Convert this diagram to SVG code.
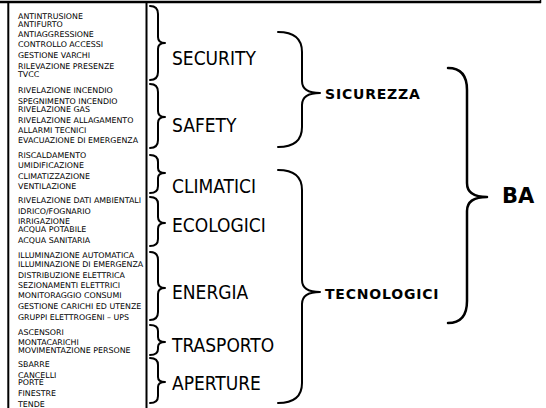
<svg xmlns="http://www.w3.org/2000/svg" width="546" height="408" viewBox="0 0 546 408">
<style>
.item{font-family:"DejaVu Sans","Verdana",sans-serif;font-size:7.9px;fill:#000}
.lab{font-family:"DejaVu Sans Condensed","DejaVu Sans",sans-serif;font-size:19px;fill:#000}
.grp{font-family:"DejaVu Sans",sans-serif;font-weight:bold;font-size:14px;letter-spacing:0.8px;fill:#000}
.top{font-family:"DejaVu Sans",sans-serif;font-weight:bold;font-size:21px;fill:#000}
.br{fill:none;stroke:#000;stroke-width:2;stroke-linecap:round;stroke-linejoin:round}
.bb{fill:none;stroke:#000;stroke-width:2.5;stroke-linecap:round;stroke-linejoin:round}
</style>
<rect width="546" height="408" fill="#fff"/>
<g id="frame">
<line x1="0" y1="2" x2="541" y2="2" stroke="#000" stroke-width="2.5"/>
<line x1="540.5" y1="0" x2="540.5" y2="3" stroke="#000" stroke-width="1.5"/>
<rect x="8.3" y="2" width="138.2" height="420" fill="none" stroke="#000" stroke-width="2"/>
</g>
<g id="list">
<text class="item" x="18" y="18.5">ANTINTRUSIONE</text>
<text class="item" x="18" y="26.5">ANTIFURTO</text>
<text class="item" x="18" y="37">ANTIAGGRESSIONE</text>
<text class="item" x="18" y="47">CONTROLLO ACCESSI</text>
<text class="item" x="18" y="57.5">GESTIONE VARCHI</text>
<text class="item" x="18" y="69">RILEVAZIONE PRESENZE</text>
<text class="item" x="18" y="77">TVCC</text>
<text class="item" x="18" y="93">RIVELAZIONE INCENDIO</text>
<text class="item" x="18" y="103.5">SPEGNIMENTO INCENDIO</text>
<text class="item" x="18" y="111.5">RIVELAZIONE GAS</text>
<text class="item" x="18" y="122.5">RIVELAZIONE ALLAGAMENTO</text>
<text class="item" x="18" y="132.5">ALLARMI TECNICI</text>
<text class="item" x="18" y="143">EVACUAZIONE DI EMERGENZA</text>
<text class="item" x="18" y="158">RISCALDAMENTO</text>
<text class="item" x="18" y="167.5">UMIDIFICAZIONE</text>
<text class="item" x="18" y="179">CLIMATIZZAZIONE</text>
<text class="item" x="18" y="189">VENTILAZIONE</text>
<text class="item" x="18" y="203">RIVELAZIONE DATI AMBIENTALI</text>
<text class="item" x="18" y="214">IDRICO/FOGNARIO</text>
<text class="item" x="18" y="223.5">IRRIGAZIONE</text>
<text class="item" x="18" y="231.5">ACQUA POTABILE</text>
<text class="item" x="18" y="242.5">ACQUA SANITARIA</text>
<text class="item" x="18" y="258">ILLUMINAZIONE AUTOMATICA</text>
<text class="item" x="18" y="266.5">ILLUMINAZIONE DI EMERGENZA</text>
<text class="item" x="18" y="278">DISTRIBUZIONE ELETTRICA</text>
<text class="item" x="18" y="287.5">SEZIONAMENTI ELETTRICI</text>
<text class="item" x="18" y="298">MONITORAGGIO CONSUMI</text>
<text class="item" x="18" y="309">GESTIONE CARICHI ED UTENZE</text>
<text class="item" x="18" y="320">GRUPPI ELETTROGENI – UPS</text>
<text class="item" x="18" y="334.5">ASCENSORI</text>
<text class="item" x="18" y="344.5">MONTACARICHI</text>
<text class="item" x="18" y="352.5">MOVIMENTAZIONE PERSONE</text>
<text class="item" x="18" y="367">SBARRE</text>
<text class="item" x="18" y="377.5">CANCELLI</text>
<text class="item" x="18" y="385">PORTE</text>
<text class="item" x="18" y="396">FINESTRE</text>
<text class="item" x="18" y="407">TENDE</text>
</g>
<g id="connectors">
<path class="br" d="M150 6 Q158 6 158 14 L158 37 Q158 43 165 43 Q158 43 158 49 L158 72 Q158 80 150 80"/>
<path class="br" d="M150 84 Q158 84 158 92 L158 111 Q158 117 165 117 Q158 117 158 123 L158 140 Q158 148 150 148"/>
<path class="br" d="M150 155 Q158 155 158 162 L158 168 Q158 173 165 173 Q158 173 158 178 L158 186 Q158 193 150 193"/>
<path class="br" d="M150 197 Q158 197 158 204 L158 217 Q158 223 165 223 Q158 223 158 229 L158 239 Q158 246 150 246"/>
<path class="br" d="M150 252 Q158 252 158 260 L158 282 Q158 288 165 288 Q158 288 158 294 L158 312 Q158 320 150 320"/>
<path class="br" d="M150 325 Q158 325 158 331 L158 337 Q158 342 165 342 Q158 342 158 347 L158 349 Q158 355 150 355"/>
<path class="br" d="M150 358 Q158 358 158 365 L158 377 Q158 382 165 382 Q158 382 158 387 L158 396 Q158 403 150 403"/>
<path class="br" d="M278 32 Q302 32 302 52 L302 81 Q302 93 320 93 Q302 93 302 105 L302 127 Q302 147 278 147"/>
<path class="br" d="M278 170 Q302 170 302 190 L302 280 Q302 292 320 292 Q302 292 302 304 L302 383 Q302 403 278 403"/>
<path class="bb" d="M448 68 Q467 68 467 90 L467 183 Q467 197 487 197 Q467 197 467 211 L467 301 Q467 323 448 323"/>
</g>
<g id="n-security"><text class="lab" x="172" y="65">SECURITY</text></g>
<g id="n-safety"><text class="lab" x="172" y="132">SAFETY</text></g>
<g id="n-climatici"><text class="lab" x="172" y="193">CLIMATICI</text></g>
<g id="n-ecologici"><text class="lab" x="172" y="232">ECOLOGICI</text></g>
<g id="n-energia"><text class="lab" x="172" y="299">ENERGIA</text></g>
<g id="n-trasporto"><text class="lab" x="172" y="352">TRASPORTO</text></g>
<g id="n-aperture"><text class="lab" x="172" y="390">APERTURE</text></g>
<g id="n-sicurezza"><text class="grp" x="325" y="99">SICUREZZA</text></g>
<g id="n-tecnologici"><text class="grp" x="325" y="299">TECNOLOGICI</text></g>
<g id="n-ba"><text class="top" x="502" y="203">BA</text></g>
</svg>
